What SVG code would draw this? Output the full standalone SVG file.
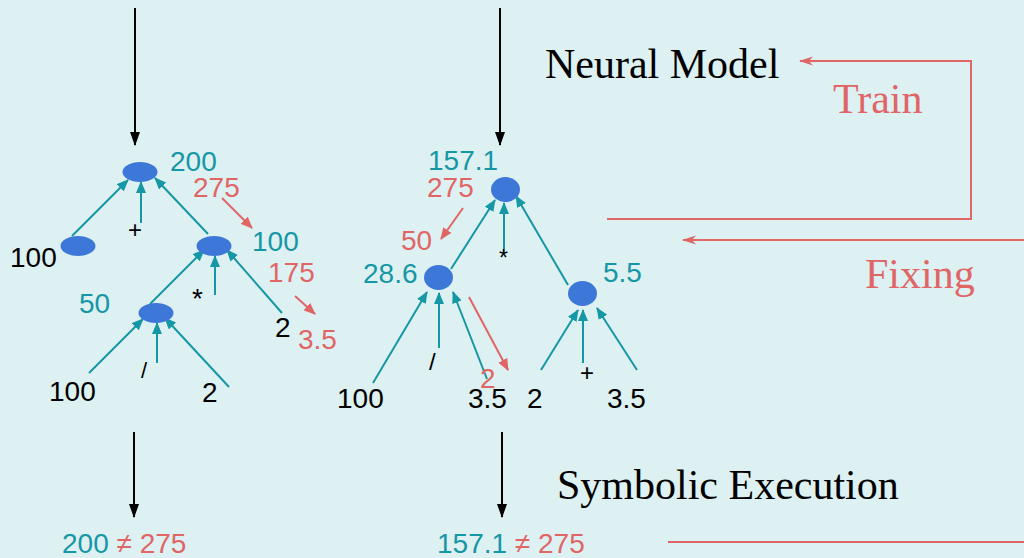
<svg xmlns="http://www.w3.org/2000/svg" width="1024" height="558" viewBox="0 0 1024 558">
<defs>
<style>
.t{stroke:#1597a5;stroke-width:2;fill:none}
.r{stroke:#e06666;stroke-width:2;fill:none}
.k{stroke:#000;stroke-width:2;fill:none}
.n{fill:#3d78d8}
.s{font-family:"Liberation Sans",Arial,sans-serif;font-size:28px}
.f{font-family:"Liberation Serif","Times New Roman",serif;font-size:42px}
.tc{fill:#1597a5}
.rc{fill:#e06666}
.bc{fill:#000}
</style>
<marker id="at" markerUnits="userSpaceOnUse" markerWidth="12" markerHeight="10" viewBox="0 0 12 10" refX="11" refY="5" orient="auto"><path d="M0,0 L12,5 L0,10 Z" fill="#1597a5"/></marker>
<marker id="ar" markerUnits="userSpaceOnUse" markerWidth="12" markerHeight="10" viewBox="0 0 12 10" refX="11" refY="5" orient="auto"><path d="M0,0 L12,5 L0,10 Z" fill="#e06666"/></marker>
<marker id="ak" markerUnits="userSpaceOnUse" markerWidth="14" markerHeight="10" viewBox="0 0 14 10" refX="13" refY="5" orient="auto"><path d="M0,0 L14,5 L0,10 Z" fill="#000"/></marker>
<marker id="ao" markerUnits="userSpaceOnUse" markerWidth="14" markerHeight="10" viewBox="0 0 14 10" refX="13" refY="5" orient="auto"><path d="M0,0.5 L14,5 L0,9.5 L4,5 Z" fill="#e06666"/></marker>
</defs>
<rect width="1024" height="558" fill="#ddf0f2"/>

<g id="connectors">
<line class="k" x1="135" y1="8" x2="135" y2="145" marker-end="url(#ak)"/>
<line class="k" x1="500" y1="8" x2="500" y2="145" marker-end="url(#ak)"/>
<line class="k" x1="134" y1="432" x2="134" y2="517" marker-end="url(#ak)"/>
<line class="k" x1="502" y1="432" x2="502" y2="517" marker-end="url(#ak)"/>

<line class="t" x1="72" y1="236" x2="128" y2="180" marker-end="url(#at)"/>
<line class="t" x1="141" y1="223" x2="141" y2="182" marker-end="url(#at)"/>
<line class="t" x1="208" y1="234" x2="155" y2="178" marker-end="url(#at)"/>
<line class="t" x1="150" y1="304" x2="204" y2="250" marker-end="url(#at)"/>
<line class="t" x1="215" y1="295" x2="215" y2="256" marker-end="url(#at)"/>
<line class="t" x1="282" y1="313" x2="227" y2="250" marker-end="url(#at)"/>
<line class="t" x1="89" y1="373" x2="143" y2="319" marker-end="url(#at)"/>
<line class="t" x1="157" y1="363" x2="157" y2="323" marker-end="url(#at)"/>
<line class="t" x1="229" y1="387" x2="165" y2="318" marker-end="url(#at)"/>
<line class="r" x1="222" y1="198" x2="252" y2="228" marker-end="url(#ar)"/>
<line class="r" x1="295" y1="296" x2="315" y2="314" marker-end="url(#ar)"/>

<line class="t" x1="451" y1="269" x2="495" y2="200" marker-end="url(#at)"/>
<line class="t" x1="504" y1="253" x2="504" y2="203" marker-end="url(#at)"/>
<line class="t" x1="568" y1="285" x2="516" y2="196" marker-end="url(#at)"/>
<line class="t" x1="373" y1="383" x2="427" y2="292" marker-end="url(#at)"/>
<line class="t" x1="439" y1="348" x2="439" y2="293" marker-end="url(#at)"/>
<line class="t" x1="487" y1="379" x2="453" y2="292" marker-end="url(#at)"/>
<line class="t" x1="541" y1="370" x2="578" y2="310" marker-end="url(#at)"/>
<line class="t" x1="583" y1="363" x2="583" y2="310" marker-end="url(#at)"/>
<line class="t" x1="637" y1="370" x2="597" y2="308" marker-end="url(#at)"/>
<line class="r" x1="463" y1="208" x2="441" y2="239" marker-end="url(#ar)"/>
<line class="r" x1="469" y1="297" x2="508" y2="370" marker-end="url(#ar)"/>

<polyline class="r" points="607,219 971,219 971,61 800,61" marker-end="url(#ao)"/>
<line class="r" x1="1024" y1="240" x2="683" y2="240" marker-end="url(#ao)"/>
<line class="r" x1="668" y1="542" x2="1024" y2="542"/>
</g>

<g id="left-root"><ellipse class="n" cx="140" cy="172" rx="17.5" ry="10"/></g>
<g id="left-100-node"><ellipse class="n" cx="78" cy="246" rx="17.5" ry="10"/></g>
<g id="left-mul"><ellipse class="n" cx="214" cy="246" rx="17.5" ry="10"/></g>
<g id="left-div"><ellipse class="n" cx="156" cy="313" rx="17.5" ry="10"/></g>

<g id="mid-root"><ellipse class="n" cx="505.5" cy="189.5" rx="14.5" ry="12.5"/></g>
<g id="mid-div"><ellipse class="n" cx="438.5" cy="277.5" rx="14.5" ry="12.5"/></g>
<g id="mid-add"><ellipse class="n" cx="582.5" cy="293.5" rx="14.5" ry="12.5"/></g>

<g id="left-labels" class="s">
<text class="tc" x="170" y="171">200</text>
<text class="rc" x="193" y="197">275</text>
<text class="tc" x="252" y="251">100</text>
<text class="bc" x="10" y="267">100</text>
<text class="bc" x="128" y="238" font-size="24">+</text>
<text class="bc" x="192" y="308">*</text>
<text class="rc" x="268" y="282">175</text>
<text class="bc" x="275" y="337">2</text>
<text class="rc" x="298" y="349">3.5</text>
<text class="tc" x="79" y="313">50</text>
<text class="bc" x="141" y="378" font-size="22">/</text>
<text class="bc" x="49" y="401">100</text>
<text class="bc" x="202" y="402">2</text>
</g>

<g id="mid-labels" class="s">
<text class="tc" x="428" y="170">157.1</text>
<text class="rc" x="427" y="197">275</text>
<text class="rc" x="401" y="250">50</text>
<text class="tc" x="363" y="283">28.6</text>
<text class="bc" x="499" y="266" font-size="23">*</text>
<text class="tc" x="603" y="282">5.5</text>
<text class="bc" x="429" y="370" font-size="24">/</text>
<text class="rc" x="480" y="388">2</text>
<text class="bc" x="337" y="408">100</text>
<text class="bc" x="468" y="408">3.5</text>
<text class="bc" x="527" y="408">2</text>
<text class="bc" x="580" y="381" font-size="24">+</text>
<text class="bc" x="607" y="408">3.5</text>
</g>

<g id="results" class="s">
<text x="62" y="553"><tspan class="tc">200</tspan><tspan class="rc"> ≠ 275</tspan></text>
<text x="437" y="553"><tspan class="tc">157.1</tspan><tspan class="rc"> ≠ 275</tspan></text>
</g>

<g id="neural-model"><text class="f bc" x="545" y="78">Neural Model</text></g>
<g id="symbolic-execution"><text class="f bc" x="557" y="499">Symbolic Execution</text></g>
<g id="train-label"><text class="f rc" x="833" y="113">Train</text></g>
<g id="fixing-label"><text class="f rc" x="865" y="288">Fixing</text></g>
</svg>
